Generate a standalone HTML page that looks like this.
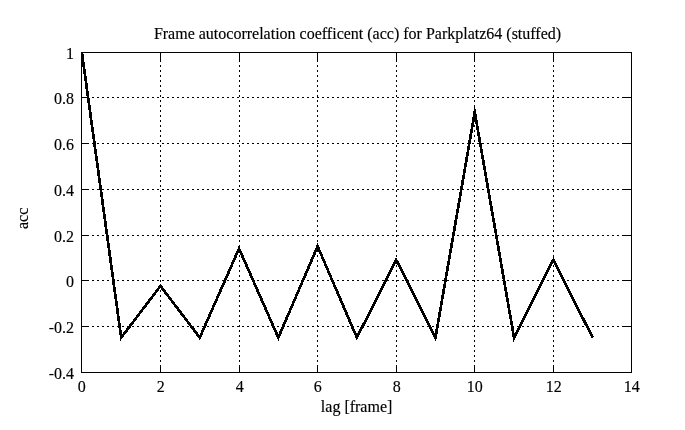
<!DOCTYPE html>
<html lang="en"><head><meta charset="utf-8"><title>Frame autocorrelation coefficent (acc) for Parkplatz64 (stuffed)</title>
<style>html,body{margin:0;padding:0;background:#fff}body{width:685px;height:430px;overflow:hidden}svg{display:block}text{font-family:'Liberation Serif','Times New Roman',Times,serif;font-size:16px;fill:#000;stroke:#000;stroke-width:0.15px}</style>
</head><body>
<svg width="685" height="430" viewBox="0 0 685 430">
<rect x="0" y="0" width="685" height="430" fill="#ffffff"/>
<g stroke="#000" stroke-width="1" fill="none" shape-rendering="crispEdges">
<line x1="160.5" y1="372" x2="160.5" y2="53" stroke-dasharray="2 3"/>
<line x1="239.5" y1="372" x2="239.5" y2="53" stroke-dasharray="2 3"/>
<line x1="317.5" y1="372" x2="317.5" y2="53" stroke-dasharray="2 3"/>
<line x1="396.5" y1="372" x2="396.5" y2="53" stroke-dasharray="2 3"/>
<line x1="474.5" y1="372" x2="474.5" y2="53" stroke-dasharray="2 3"/>
<line x1="553.5" y1="372" x2="553.5" y2="53" stroke-dasharray="2 3"/>
<line x1="82" y1="97.5" x2="631" y2="97.5" stroke-dasharray="2 3"/>
<line x1="82" y1="143.5" x2="631" y2="143.5" stroke-dasharray="2 3"/>
<line x1="82" y1="189.5" x2="631" y2="189.5" stroke-dasharray="2 3"/>
<line x1="82" y1="235.5" x2="631" y2="235.5" stroke-dasharray="2 3"/>
<line x1="82" y1="280.5" x2="631" y2="280.5" stroke-dasharray="2 3"/>
<line x1="82" y1="326.5" x2="631" y2="326.5" stroke-dasharray="2 3"/>
<line x1="160.5" y1="53" x2="160.5" y2="60"/>
<line x1="160.5" y1="372" x2="160.5" y2="365"/>
<line x1="239.5" y1="53" x2="239.5" y2="60"/>
<line x1="239.5" y1="372" x2="239.5" y2="365"/>
<line x1="317.5" y1="53" x2="317.5" y2="60"/>
<line x1="317.5" y1="372" x2="317.5" y2="365"/>
<line x1="396.5" y1="53" x2="396.5" y2="60"/>
<line x1="396.5" y1="372" x2="396.5" y2="365"/>
<line x1="474.5" y1="53" x2="474.5" y2="60"/>
<line x1="474.5" y1="372" x2="474.5" y2="365"/>
<line x1="553.5" y1="53" x2="553.5" y2="60"/>
<line x1="553.5" y1="372" x2="553.5" y2="365"/>
<line x1="82" y1="97.5" x2="89" y2="97.5"/>
<line x1="631" y1="97.5" x2="624" y2="97.5"/>
<line x1="82" y1="143.5" x2="89" y2="143.5"/>
<line x1="631" y1="143.5" x2="624" y2="143.5"/>
<line x1="82" y1="189.5" x2="89" y2="189.5"/>
<line x1="631" y1="189.5" x2="624" y2="189.5"/>
<line x1="82" y1="235.5" x2="89" y2="235.5"/>
<line x1="631" y1="235.5" x2="624" y2="235.5"/>
<line x1="82" y1="280.5" x2="89" y2="280.5"/>
<line x1="631" y1="280.5" x2="624" y2="280.5"/>
<line x1="82" y1="326.5" x2="89" y2="326.5"/>
<line x1="631" y1="326.5" x2="624" y2="326.5"/>
<rect x="81.5" y="52.5" width="550" height="320"/>
</g>
<clipPath id="c"><rect x="81" y="52" width="551" height="321"/></clipPath>
<polyline clip-path="url(#c)" shape-rendering="crispEdges" fill="none" stroke="#000" stroke-width="2.7" stroke-linejoin="miter" stroke-miterlimit="10" stroke-linecap="butt" points="81.90,52.50 121.19,337.60 160.47,286.00 199.76,337.60 239.04,248.60 278.33,337.60 317.61,246.30 356.90,337.60 396.19,259.90 435.47,337.60 474.76,112.20 514.04,337.60 553.33,259.90 592.61,337.50"/>
<text x="357.5" y="39" text-anchor="middle">Frame autocorrelation coefficent (acc) for Parkplatz64 (stuffed)</text>
<text x="74" y="58.9" text-anchor="end">1</text>
<text x="74" y="103.9" text-anchor="end">0.8</text>
<text x="74" y="149.9" text-anchor="end">0.6</text>
<text x="74" y="195.9" text-anchor="end">0.4</text>
<text x="74" y="241.9" text-anchor="end">0.2</text>
<text x="74" y="286.9" text-anchor="end">0</text>
<text x="74" y="332.9" text-anchor="end">-0.2</text>
<text x="74" y="378.9" text-anchor="end">-0.4</text>
<text x="81.8" y="391.5" text-anchor="middle">0</text>
<text x="160.8" y="391.5" text-anchor="middle">2</text>
<text x="239.8" y="391.5" text-anchor="middle">4</text>
<text x="317.8" y="391.5" text-anchor="middle">6</text>
<text x="396.8" y="391.5" text-anchor="middle">8</text>
<text x="474.8" y="391.5" text-anchor="middle">10</text>
<text x="553.8" y="391.5" text-anchor="middle">12</text>
<text x="631.8" y="391.5" text-anchor="middle">14</text>
<text x="356.6" y="412" text-anchor="middle">lag [frame]</text>
<text transform="translate(28,218.4) rotate(-90)" text-anchor="middle">acc</text>
</svg>
</body></html>
